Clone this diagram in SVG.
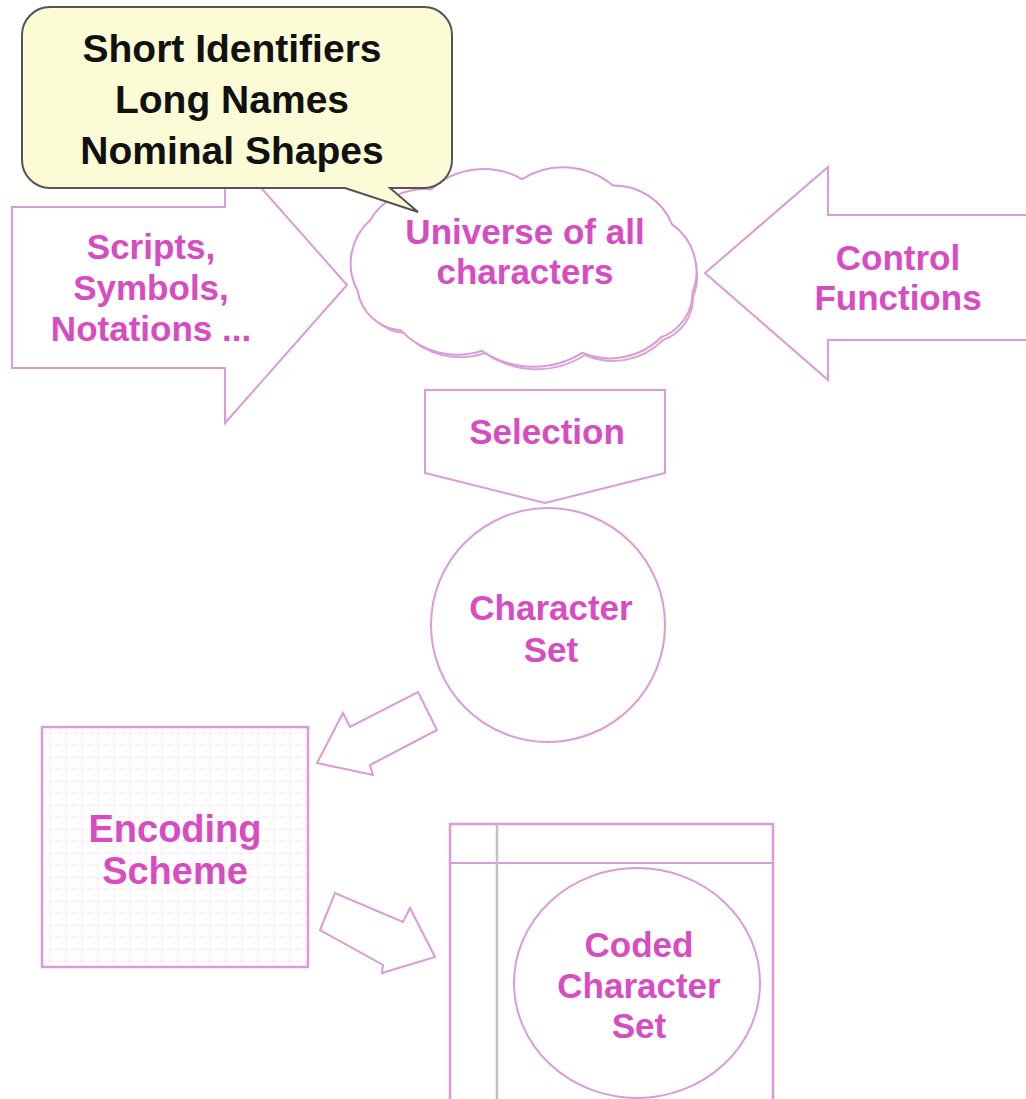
<svg xmlns="http://www.w3.org/2000/svg" width="1026" height="1099" viewBox="0 0 1026 1099">
<style>
.shape{fill:#fff;stroke:#dc9ad8;stroke-width:2}
.lbl{font-family:"Liberation Sans",Arial,sans-serif;font-weight:bold;font-size:35px;fill:#d84cc2;text-anchor:middle}
.call{font-family:"Liberation Sans",Arial,sans-serif;font-weight:bold;font-size:39px;fill:#111;text-anchor:middle}
</style>
<defs>
<pattern id="grid" width="16" height="12" patternUnits="userSpaceOnUse" x="42" y="727">
<path d="M0 6 H16 M8 0 V12" stroke="#f5e6f4" stroke-width="1" stroke-dasharray="4 2" fill="none"/>
</pattern>
<path id="cloudshape" d="M360,290 A55 55 0 0 1 372,222 A60 60 0 0 1 432,192 A75 75 0 0 1 522,182 A75 75 0 0 1 612,188 A60 60 0 0 1 670,226 A55 55 0 0 1 690,292 A45 45 0 0 1 660,335 A70 70 0 0 1 582,350 A90 90 0 0 1 482,348 A75 75 0 0 1 402,328 A45 45 0 0 1 360,290 Z"/>
</defs>
<g id="connectors">
<polygon id="arrow-scripts" class="shape" points="12,207 225,207 225,147 347,285 225,423 225,368 12,368"/>
<polygon id="arrow-control" class="shape" points="1030,215 828,215 828,167 705,273 828,380 828,340 1030,340"/>
<polygon id="arrow-selection" class="shape" points="425,390 665,390 665,473 545,503 425,473"/>
<polygon id="arrow-to-encoding" class="shape" points="418,692 437,730 370,765 373,775 317,763 343,713 350,727"/>
<polygon id="arrow-to-coded" class="shape" points="335,893 320,930 383,965 382,973 435,957 410,908 403,922"/>
</g>
<g id="cloud">
<use href="#cloudshape" transform="translate(3,5)" fill="#fff" stroke="#dba3d8" stroke-width="2"/>
<use href="#cloudshape" fill="#fff" stroke="#d99ad6" stroke-width="7"/>
<use href="#cloudshape" fill="#fff" stroke="#fff" stroke-width="3"/>
<text class="lbl" x="525" y="244">Universe of all</text>
<text class="lbl" x="525" y="284">characters</text>
</g>
<g id="callout">
<path d="M50,7 H424 A28 28 0 0 1 452 35 V160 A28 28 0 0 1 424 188 H390 L418 212 L345 188 H50 A28 28 0 0 1 22 160 V35 A28 28 0 0 1 50 7 Z" fill="#fbfbd6" stroke="#555" stroke-width="2"/>
<text class="call" x="232" y="62">Short Identifiers</text>
<text class="call" x="232" y="113">Long Names</text>
<text class="call" x="232" y="164">Nominal Shapes</text>
</g>
<g id="scripts-label">
<text class="lbl" x="151" y="259">Scripts,</text>
<text class="lbl" x="151" y="300">Symbols,</text>
<text class="lbl" x="151" y="341">Notations ...</text>
</g>
<g id="control-label">
<text class="lbl" x="898" y="270">Control</text>
<text class="lbl" x="898" y="310">Functions</text>
</g>
<g id="selection-label">
<text class="lbl" x="547" y="444">Selection</text>
</g>
<g id="character-set">
<circle class="shape" cx="548" cy="625" r="117"/>
<text class="lbl" x="551" y="620">Character</text>
<text class="lbl" x="551" y="662">Set</text>
</g>
<g id="encoding-scheme">
<rect x="42" y="727" width="266" height="240" fill="url(#grid)" stroke="#dc9ad8" stroke-width="2.5"/>
<text class="lbl" x="175" y="842" style="font-size:38px">Encoding</text>
<text class="lbl" x="175" y="884" style="font-size:38px">Scheme</text>
</g>
<g id="coded-character-set">
<rect x="450" y="824" width="323" height="290" fill="#fff" stroke="#dc9ad8" stroke-width="2.5"/>
<line x1="450" y1="863" x2="773" y2="863" stroke="#dc9ad8" stroke-width="2"/>
<line x1="497" y1="824" x2="497" y2="1099" stroke="#c4c0c4" stroke-width="2.5"/>
<ellipse class="shape" cx="637" cy="983" rx="123" ry="115"/>
<text class="lbl" x="639" y="957">Coded</text>
<text class="lbl" x="639" y="998">Character</text>
<text class="lbl" x="639" y="1038">Set</text>
</g>
</svg>
